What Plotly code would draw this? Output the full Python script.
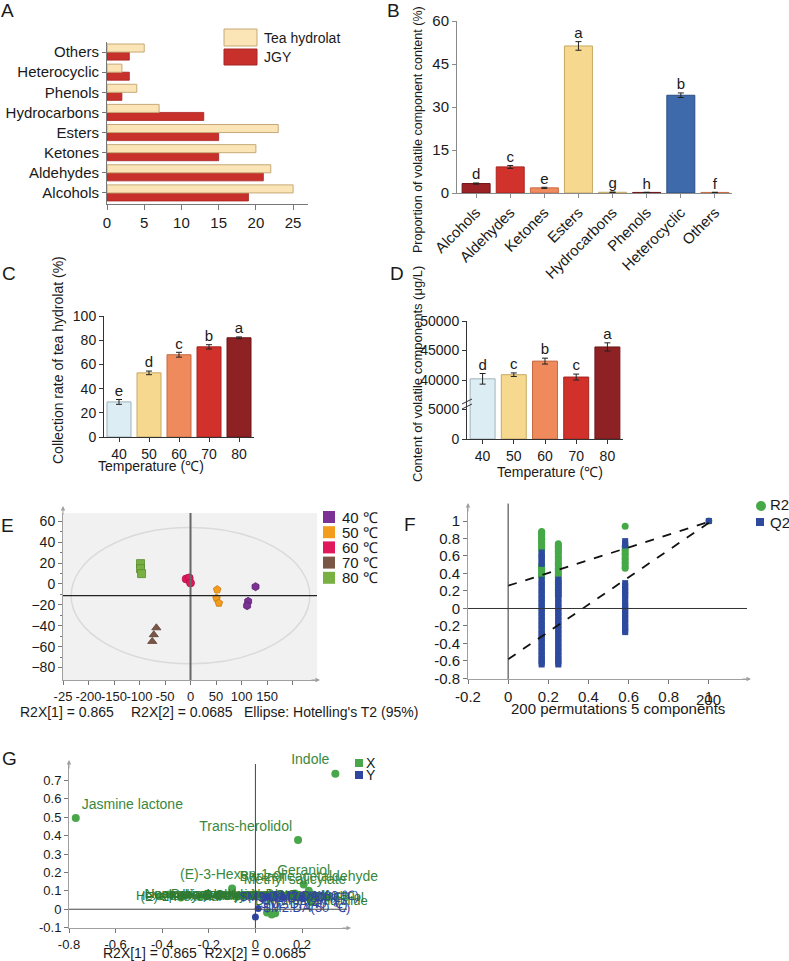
import plotly.graph_objects as go

W, H = 789, 961
FONT = "Liberation Sans, Arial, Helvetica, sans-serif"
TXT = "#1a1a1a"

# ---------------- data ----------------
# Panel A
A_categories = ["Alcohols", "Aldehydes", "Ketones", "Esters", "Hydrocarbons", "Phenols", "Heterocyclic", "Others"]
A_tea = [25, 22, 20, 23, 7, 4, 2, 5]
A_jgy = [19, 21, 15, 15, 13, 2, 3, 3]
A_xticks = [0, 5, 10, 15, 20, 25]
A_series = ["Tea hydrolat", "JGY"]

# Panel B
B_categories = ["Alcohols", "Aldehydes", "Ketones", "Esters", "Hydrocarbons", "Phenols", "Heterocyclic", "Others"]
B_values = [3.3, 9.1, 1.8, 51.3, 0.25, 0.2, 34.1, 0.2]
B_errors = [0.2, 0.5, 0.2, 1.5, 0.05, 0.05, 0.8, 0.05]
B_letters = ["d", "c", "e", "a", "g", "h", "b", "f"]
B_yticks = [0, 15, 30, 45, 60]
B_ytitle = "Proportion of volatile component content (%)"

# Panels C and D
T_labels = ["40", "50", "60", "70", "80"]
C_values = [29, 53, 68, 74.5, 82]
C_errors = [2.0, 1.5, 2.0, 1.8, 0.7]
C_letters = ["e", "d", "c", "b", "a"]
C_yticks = [0, 20, 40, 60, 80, 100]
C_ytitle = "Collection rate of tea hydrolat (%)"

D_values = [40200, 40900, 43200, 40500, 45600]
D_errors = [900, 300, 500, 500, 700]
D_letters = ["d", "c", "b", "c", "a"]
D_yticks = [0, 5000, 40000, 45000, 50000]
D_ytitle = "Content of volatile components (μg/L)"
T_title = "Temperature (℃)"

# Panel E (PCA scores)
E_groups = ["40 ℃", "50 ℃", "60 ℃", "70 ℃", "80 ℃"]
E_x40 = [127.5, 113.0, 111.0]
E_y40 = [-2.6, -16.6, -20.8]
E_x50 = [52.3, 51.0, 55.6]
E_y50 = [-5.4, -13.4, -18.2]
E_x60 = [-8.5, -2.6, 0.0]
E_y60 = [4.8, 5.8, 1.0]
E_x70 = [-67.0, -72.0, -75.0]
E_y70 = [-42.0, -48.6, -55.0]
E_x80 = [-98.0, -98.0, -96.0]
E_y80 = [19.5, 14.7, 9.9]
E_xtickvals = [-250, -200, -150, -100, -50, 0, 50, 100, 150, 200]
E_xticktext = ["-25", "-200", "-150", "-100", "-50", "0", "50", "100", "150", ""]
E_yticks = [-80, -60, -40, -20, 0, 20, 40, 60]
E_yminor = [-70, -50, -30, -10, 10, 30, 50]
E_hline = -11.2
E_ellipse_rx = 234
E_ellipse_ry = 65.3
E_notes = ["R2X[1] = 0.865", "R2X[2] = 0.0685", "Ellipse: Hotelling's T2 (95%)"]

# Panel F (permutation test)
F_cols_x = [0.167, 0.25, 0.583, 1.0]
F_R2_c1 = [0.88, 0.87, 0.85, 0.84, 0.82, 0.80, 0.79, 0.77, 0.75, 0.73, 0.71, 0.69, 0.67,
           0.50, 0.48, 0.46, 0.44, 0.42, 0.40, 0.38, 0.36]
F_R2_c2 = [0.74, 0.72, 0.71, 0.69, 0.67, 0.65, 0.63, 0.60, 0.58, 0.56, 0.53, 0.51, 0.49,
           0.46, 0.44, 0.42, 0.39, 0.37, 0.35, 0.32, 0.29, 0.27, 0.24, 0.21, 0.18, 0.15]
F_R2_c3 = [0.94, 0.71, 0.68, 0.66, 0.63, 0.61, 0.58, 0.56, 0.53, 0.51, 0.48, 0.46]
F_R2_c4 = [1.0]
F_Q2_c1 = [0.64, 0.62, 0.60, 0.58, 0.56, 0.53, 0.51, 0.33, 0.30, 0.28, 0.25, 0.22, 0.20,
           0.17, 0.15, 0.12, 0.10, 0.07, 0.05, 0.02, 0.0, -0.03, -0.05, -0.08, -0.10,
           -0.13, -0.15, -0.18, -0.20, -0.23, -0.25, -0.28, -0.30, -0.33, -0.35, -0.38,
           -0.40, -0.43, -0.45, -0.48, -0.50, -0.53, -0.55, -0.58, -0.60, -0.62, -0.64]
F_Q2_c2 = [0.33, 0.30, 0.28, 0.25, 0.22, 0.20, 0.17, 0.15, 0.12, 0.10, 0.07, 0.05, 0.02,
           0.0, -0.03, -0.05, -0.08, -0.10, -0.13, -0.15, -0.18, -0.20, -0.23, -0.25,
           -0.28, -0.30, -0.33, -0.35, -0.38, -0.40, -0.43, -0.45, -0.48, -0.50, -0.53,
           -0.55, -0.58, -0.60, -0.62, -0.64]
F_Q2_c3 = [0.77, 0.74, 0.72, 0.29, 0.26, 0.24, 0.21, 0.19, 0.16, 0.14, 0.11, 0.07, 0.04,
           0.02, -0.01, -0.03, -0.06, -0.08, -0.11, -0.13, -0.16, -0.18, -0.21, -0.23,
           -0.25, -0.27]
F_Q2_c4 = [1.0]
F_line_x = [0.0, 1.0]
F_R2_line = [0.26, 0.99]
F_Q2_line = [-0.58, 0.98]
F_xtickvals = [-0.2, 0, 0.2, 0.4, 0.6, 0.8, 1.0]
F_xticktext = ["-0.2", "0", "0.2", "0.4", "0.6", "0.8", "1"]
F_ytickvals = [-0.8, -0.6, -0.4, -0.2, 0, 0.2, 0.4, 0.6, 0.8, 1.0]
F_yticktext = ["-0.8", "-0.6", "-0.4", "-0.2", "0", "0.2", "0.4", "0.6", "0.8", "1"]
F_title = "200 permutations 5 components"
F_series = ["R2", "Q2"]

# Panel G (loadings)
G_X_names = ["Jasmine lactone", "Indole", "Trans-herolidol",
             "(E)-3-Hexen-1-ol", "Geraniol", "Benzeneacetaldehyde", "Methyl salicylate",
             "Hexanal", "Nonanal", "(E)-2-Hexenal", "Linalool oxide I", "β-Myrcene",
             "D-Limonene", "trans-β-Ocimene", "Linalool oxide II", "α-Terpineol",
             "Benzyl alcohol", "Linalool", "Phenylethyl alcohol",
             "β-Ionone", "cis-Jasmone", "Coumarin", "Safranal",
             "β-Cyclocitral", "2-Pentylfuran", "1-Octen-3-ol",
             "Dihydroactinidiolide"]
G_X_x = [-0.771, 0.343, 0.183,
         -0.10, 0.207, 0.229, 0.17,
         -0.41, -0.37, -0.32, -0.29, -0.24,
         -0.21, -0.16, -0.12, -0.08,
         -0.04, 0.0, 0.04,
         0.08, 0.11, 0.15, 0.19,
         0.22, 0.26, 0.31,
         0.24]
G_X_y = [0.495, 0.736, 0.376,
         0.112, 0.135, 0.100, 0.085,
         0.070, 0.080, 0.064, 0.076, 0.068,
         0.080, 0.072, 0.078, 0.068,
         0.072, 0.080, 0.070,
         0.066, 0.078, 0.070, 0.074,
         0.066, 0.072, 0.064,
         0.038]
G_X_extra_x = [0.05, 0.07, 0.085]
G_X_extra_y = [-0.018, -0.028, -0.022]
G_Y_names = ["$M2.DA(40 ℃)", "$M2.DA(50 ℃)", "$M2.DA(60 ℃)", "$M2.DA(70 ℃)", "$M2.DA(80 ℃)"]
G_Y_x = [0.0, 0.012, 0.05, 0.12, 0.2]
G_Y_y = [-0.042, 0.004, 0.068, 0.064, 0.058]
G_xtickvals = [-0.8, -0.6, -0.4, -0.2, 0, 0.2]
G_xticktext = ["-0.8", "-0.6", "-0.4", "-0.2", "0", "0.2"]
G_ytickvals = [-0.1, 0, 0.1, 0.2, 0.3, 0.4, 0.5, 0.6, 0.7]
G_yticktext = ["-0.1", "0", "0.1", "0.2", "0.3", "0.4", "0.5", "0.6", "0.7"]
G_note = "R2X[1] = 0.865  R2X[2] = 0.0685"
G_series = ["X", "Y"]

# ---------------- styles ----------------
B_fill = ["#9b2327", "#d2322c", "#ef8b5e", "#f6d88f", "#f6d88f", "#9b2327", "#3e6aac", "#ef8b5e"]
B_edge = ["#6f1518", "#a82520", "#c96a44", "#c7a965", "#c7a965", "#6f1518", "#2b4d80", "#c96a44"]
T_fill = ["#dcedf3", "#f6d88f", "#ef8a5c", "#d1302b", "#8e2124"]
T_edge = ["#9fb3bb", "#c7a965", "#c46a45", "#a52420", "#6d1518"]
E_colors = ["#7b3294", "#f39c1d", "#e0185c", "#7a5646", "#78b043"]
E_edges = ["#5a1f70", "#c7780a", "#b00f45", "#5a3e32", "#5a8a2e"]
E_symbols = ["hexagon", "pentagon", "circle", "triangle-up", "square"]
G_green = "#4aa64a"
G_green_txt = "#3a883d"
G_band_txt = "#2f7a33"
G_blue = "#2f45a0"
F_green = "#45a947"
F_blue = "#2d4a9e"


def xd(a, b):
    return [a / W, b / W]


def yd(top, bottom):
    return [1 - bottom / H, 1 - top / H]


def PX(x):
    return x / W


def PY(y):
    return 1 - y / H


def broken(v):
    # broken y axis of panel D: 0-5000 in the lower step, 40000+ above the break
    return v / 5000.0 if v <= 5000 else 2.0 + (v - 40000) / 5000.0


fig = go.Figure()

# ---------- A ----------
A_pos = list(range(len(A_categories)))
fig.add_trace(go.Bar(y=A_pos, x=A_jgy, orientation="h", width=0.4, offset=-0.4,
                     marker=dict(color="#c8302c", line=dict(color="#a82522", width=0.8)),
                     xaxis="x", yaxis="y", name=A_series[1]))
fig.add_trace(go.Bar(y=A_pos, x=A_tea, orientation="h", width=0.4, offset=0.0,
                     marker=dict(color="#fbe5b6", line=dict(color="#c6a876", width=1)),
                     xaxis="x", yaxis="y", name=A_series[0]))

# ---------- B ----------
B_pos = list(range(len(B_categories)))
fig.add_trace(go.Bar(x=B_pos, y=B_values, width=0.82,
                     marker=dict(color=B_fill, line=dict(color=B_edge, width=1)),
                     error_y=dict(type="data", array=B_errors, color="#222", thickness=1, width=3),
                     xaxis="x2", yaxis="y2"))
fig.add_trace(go.Scatter(x=B_pos, y=[v + e for v, e in zip(B_values, B_errors)], mode="text",
                         text=B_letters, textposition="top center", cliponaxis=False,
                         textfont=dict(size=15, color=TXT), xaxis="x2", yaxis="y2"))

# ---------- C ----------
T_pos = list(range(len(T_labels)))
fig.add_trace(go.Bar(x=T_pos, y=C_values, width=0.8,
                     marker=dict(color=T_fill, line=dict(color=T_edge, width=1)),
                     error_y=dict(type="data", array=C_errors, color="#222", thickness=1, width=3),
                     xaxis="x3", yaxis="y3"))
fig.add_trace(go.Scatter(x=T_pos, y=[v + e for v, e in zip(C_values, C_errors)], mode="text",
                         text=C_letters, textposition="top center", cliponaxis=False,
                         textfont=dict(size=15, color=TXT), xaxis="x3", yaxis="y3"))

# ---------- D ----------
D_disp = [broken(v) for v in D_values]
D_err_disp = [e / 5000.0 for e in D_errors]
fig.add_trace(go.Bar(x=T_pos, y=D_disp, width=0.8,
                     marker=dict(color=T_fill, line=dict(color=T_edge, width=1)),
                     error_y=dict(type="data", array=D_err_disp, color="#222", thickness=1, width=3),
                     xaxis="x4", yaxis="y4"))
fig.add_trace(go.Scatter(x=T_pos, y=[v + e for v, e in zip(D_disp, D_err_disp)], mode="text",
                         text=D_letters, textposition="top center", cliponaxis=False,
                         textfont=dict(size=15, color=TXT), xaxis="x4", yaxis="y4"))

# ---------- E ----------
E_xs = [E_x40, E_x50, E_x60, E_x70, E_x80]
E_ys = [E_y40, E_y50, E_y60, E_y70, E_y80]
for i in range(len(E_groups)):
    fig.add_trace(go.Scatter(x=E_xs[i], y=E_ys[i], mode="markers", name=E_groups[i],
                             marker=dict(symbol=E_symbols[i], size=8, color=E_colors[i],
                                         line=dict(color=E_edges[i], width=0.8)),
                             xaxis="x5", yaxis="y5"))

# ---------- F ----------
F_R2_cols = [F_R2_c1, F_R2_c2, F_R2_c3, F_R2_c4]
F_Q2_cols = [F_Q2_c1, F_Q2_c2, F_Q2_c3, F_Q2_c4]
r2x, r2y, q2x, q2y = [], [], [], []
for cx, col in zip(F_cols_x, F_R2_cols):
    r2x += [cx] * len(col)
    r2y += col
for cx, col in zip(F_cols_x, F_Q2_cols):
    q2x += [cx] * len(col)
    q2y += col
fig.add_trace(go.Scatter(x=r2x, y=r2y, mode="markers", name=F_series[0],
                         marker=dict(symbol="circle", size=7, color=F_green),
                         xaxis="x6", yaxis="y6"))
fig.add_trace(go.Scatter(x=q2x, y=q2y, mode="markers", name=F_series[1],
                         marker=dict(symbol="square", size=6, color=F_blue),
                         xaxis="x6", yaxis="y6"))
fig.add_trace(go.Scatter(x=F_line_x, y=F_R2_line, mode="lines",
                         line=dict(color="#111", width=1.8, dash="dash"), xaxis="x6", yaxis="y6"))
fig.add_trace(go.Scatter(x=F_line_x, y=F_Q2_line, mode="lines",
                         line=dict(color="#111", width=1.8, dash="dash"), xaxis="x6", yaxis="y6"))

# ---------- G ----------
n_named = 7
G_textpos = ["top right", "top left", "top left"] + ["top center"] * 4 + \
            ["middle center"] * (len(G_X_names) - n_named)
G_textsize = [14] * n_named + [13] * (len(G_X_names) - n_named)
G_textcol = [G_green_txt] * n_named + [G_band_txt] * (len(G_X_names) - n_named)
fig.add_trace(go.Scatter(x=G_X_extra_x, y=G_X_extra_y, mode="markers",
                         marker=dict(size=8, color=G_green), xaxis="x7", yaxis="y7"))
fig.add_trace(go.Scatter(x=G_X_x, y=G_X_y, mode="markers+text", text=G_X_names,
                         textposition=G_textpos, cliponaxis=False,
                         textfont=dict(size=G_textsize, color=G_textcol),
                         marker=dict(size=8, color=G_green), xaxis="x7", yaxis="y7"))
fig.add_trace(go.Scatter(x=G_Y_x, y=G_Y_y, mode="markers+text", text=G_Y_names,
                         textposition=["top right", "middle right", "middle right", "middle center", "middle center"],
                         cliponaxis=False, textfont=dict(size=13, color=G_blue),
                         marker=dict(size=7, color=G_blue), xaxis="x7", yaxis="y7"))

# ---------------- axes ----------------
base = dict(showgrid=False, zeroline=False, showline=True, ticks="outside", ticklen=4,
            tickwidth=1, tickangle=0, fixedrange=True, automargin=False,
            tickfont=dict(size=15, color=TXT))


def ax(**kw):
    d = dict(base)
    d.update(kw)
    return d


gray = "#8a8a8a"
dark = "#333333"
layout_axes = dict(
    xaxis=ax(domain=xd(107, 308), range=[0, 27], tickvals=A_xticks, anchor="y",
             linecolor="#777", tickcolor="#777", ticklen=5),
    yaxis=ax(domain=yd(42, 204), range=[-0.55, 7.5], tickvals=A_pos, ticktext=A_categories,
             anchor="x", linecolor="#777", tickcolor="#777"),
    xaxis2=ax(domain=xd(457, 732), range=[-0.56, 7.5], tickvals=B_pos, ticktext=B_categories,
              tickangle=-45, anchor="y2", linecolor=gray, tickcolor=gray),
    yaxis2=ax(domain=yd(21, 193), range=[0, 60], tickvals=B_yticks, anchor="x2",
              linecolor=gray, tickcolor=gray),
    xaxis3=ax(domain=xd(104, 254), range=[-0.5, 4.5], tickvals=T_pos, ticktext=T_labels,
              anchor="y3", linecolor=dark, tickcolor=dark, tickfont=dict(size=14, color=TXT)),
    yaxis3=ax(domain=yd(316, 437), range=[0, 100], tickvals=C_yticks, anchor="x3",
              linecolor=dark, tickcolor=dark, tickfont=dict(size=14, color=TXT)),
    xaxis4=ax(domain=xd(467, 623), range=[-0.5, 4.5], tickvals=T_pos, ticktext=T_labels,
              anchor="y4", linecolor=dark, tickcolor=dark, tickfont=dict(size=14, color=TXT)),
    yaxis4=ax(domain=yd(321, 439), range=[0, 4], tickvals=[broken(v) for v in D_yticks],
              ticktext=[str(v) for v in D_yticks], anchor="x4",
              linecolor=dark, tickcolor=dark, tickfont=dict(size=14, color=TXT)),
    xaxis5=ax(domain=xd(63, 317), range=[-250, 248], tickvals=E_xtickvals, ticktext=E_xticktext,
              anchor="y5", linecolor="#a0a0a0", tickcolor="#777", tickfont=dict(size=13, color=TXT)),
    yaxis5=ax(domain=yd(513, 680), range=[-92, 68], tickvals=E_yticks, anchor="x5",
              linecolor="#a0a0a0", tickcolor="#777", tickfont=dict(size=14, color=TXT),
              minor=dict(tickvals=E_yminor, ticks="outside", ticklen=2, tickcolor="#777")),
    xaxis6=ax(domain=xd(468, 747), range=[-0.2, 1.19], tickvals=F_xtickvals, ticktext=F_xticktext,
              anchor="y6", linecolor="#a0a0a0", tickcolor="#777"),
    yaxis6=ax(domain=yd(507, 679), range=[-0.806, 1.16], tickvals=F_ytickvals, ticktext=F_yticktext,
              anchor="x6", linecolor="#a0a0a0", tickcolor="#777"),
    xaxis7=ax(domain=xd(69, 347), range=[-0.8, 0.393], tickvals=G_xtickvals, ticktext=G_xticktext,
              anchor="y7", linecolor="#a0a0a0", tickcolor="#777", tickfont=dict(size=13, color=TXT)),
    yaxis7=ax(domain=yd(764, 928), range=[-0.102, 0.789], tickvals=G_ytickvals, ticktext=G_yticktext,
              anchor="x7", linecolor="#a0a0a0", tickcolor="#777", tickfont=dict(size=13, color=TXT)),
)

# ---------------- shapes ----------------
shapes = []
# A legend boxes
shapes.append(dict(type="rect", xref="paper", yref="paper", x0=PX(224), x1=PX(257), y0=PY(46), y1=PY(29),
                   fillcolor="#fbe5b6", line=dict(color="#c6a876", width=1)))
shapes.append(dict(type="rect", xref="paper", yref="paper", x0=PX(224), x1=PX(257), y0=PY(65), y1=PY(49),
                   fillcolor="#c8302c", line=dict(color="#a82522", width=1)))
# D axis break marks
for yy in (401, 406):
    shapes.append(dict(type="line", xref="paper", yref="paper", x0=PX(462), x1=PX(472),
                       y0=PY(yy + 3), y1=PY(yy - 2), line=dict(color=dark, width=1)))
# E background, ellipse, reference lines
shapes.append(dict(type="rect", xref="x5 domain", yref="y5 domain", x0=0, x1=1, y0=0, y1=1,
                   fillcolor="#f1f1f1", line=dict(width=0), layer="below"))
shapes.append(dict(type="circle", xref="x5", yref="y5", x0=-E_ellipse_rx, x1=E_ellipse_rx,
                   y0=E_hline - E_ellipse_ry, y1=E_hline + E_ellipse_ry,
                   line=dict(color="#dadada", width=1.5), layer="below"))
shapes.append(dict(type="line", xref="x5", yref="y5 domain", x0=0, x1=0, y0=0, y1=1,
                   line=dict(color="#666", width=2)))
shapes.append(dict(type="line", xref="x5 domain", yref="y5", x0=0, x1=1, y0=E_hline, y1=E_hline,
                   line=dict(color="#222", width=1.2)))
# E legend squares
for i in range(len(E_groups)):
    yc = 517 + i * 15.2
    shapes.append(dict(type="rect", xref="paper", yref="paper", x0=PX(323), x1=PX(335),
                       y0=PY(yc + 6), y1=PY(yc - 6), fillcolor=E_colors[i], line=dict(width=0)))
# F reference lines
shapes.append(dict(type="line", xref="x6 domain", yref="y6", x0=0, x1=1, y0=0, y1=0,
                   line=dict(color=dark, width=1)))
shapes.append(dict(type="line", xref="x6", yref="y6 domain", x0=0, x1=0, y0=0, y1=1.02,
                   line=dict(color=dark, width=1)))
# F legend
shapes.append(dict(type="circle", xref="paper", yref="paper", x0=PX(756), x1=PX(766),
                   y0=PY(511), y1=PY(501), fillcolor=F_green, line=dict(width=0)))
shapes.append(dict(type="rect", xref="paper", yref="paper", x0=PX(756), x1=PX(764),
                   y0=PY(526), y1=PY(518), fillcolor=F_blue, line=dict(width=0)))
# G reference lines
shapes.append(dict(type="line", xref="x7 domain", yref="y7", x0=0, x1=1, y0=0, y1=0,
                   line=dict(color="#444", width=1)))
shapes.append(dict(type="line", xref="x7", yref="y7 domain", x0=0, x1=0, y0=0, y1=1.0,
                   line=dict(color="#444", width=1)))
# G legend
shapes.append(dict(type="rect", xref="paper", yref="paper", x0=PX(355), x1=PX(363),
                   y0=PY(767), y1=PY(759), fillcolor=G_green, line=dict(width=0)))
shapes.append(dict(type="rect", xref="paper", yref="paper", x0=PX(355), x1=PX(363),
                   y0=PY(779), y1=PY(771), fillcolor=G_blue, line=dict(width=0)))

# ---------------- annotations ----------------
ann = []


def text(x, y, s, size=14, xanchor="center", angle=0, color=TXT):
    ann.append(dict(x=PX(x), y=PY(y), xref="paper", yref="paper", text=s, showarrow=False,
                    xanchor=xanchor, yanchor="middle", textangle=angle,
                    font=dict(size=size, color=color, family=FONT)))


def arrow(x, y, dxp, dyp):
    ann.append(dict(x=PX(x), y=PY(y), xref="paper", yref="paper", text="", showarrow=True,
                    ax=dxp, ay=dyp, arrowhead=2, arrowsize=0.9, arrowwidth=1, arrowcolor="#a0a0a0"))


for lab, x, y in [("A", 8, 10), ("B", 393, 10), ("C", 9, 273), ("D", 397, 273),
                  ("E", 8, 525), ("F", 410, 524), ("G", 9, 758)]:
    text(x, y, lab, size=19)

text(262, 38, A_series[0], size=14, xanchor="left")
text(262, 57, A_series[1], size=14, xanchor="left")

text(418, 130, B_ytitle, size=12.5, angle=-90)
text(58, 360, C_ytitle, size=14, angle=-90)
text(418, 374, D_ytitle, size=13, angle=-90)
text(151, 466, T_title, size=14)
text(550, 472, T_title, size=14)

for i, g in enumerate(E_groups):
    text(340, 517 + i * 15.2, g, size=15, xanchor="left")
text(18, 712, E_notes[0], size=14, xanchor="left")
text(129, 712, E_notes[1], size=14, xanchor="left")
text(242, 712, E_notes[2], size=14, xanchor="left")

text(708, 699, "200", size=15)
text(618, 708, F_title, size=15)
text(768, 505, F_series[0], size=15, xanchor="left")
text(768, 522, F_series[1], size=15, xanchor="left")

text(364, 763, G_series[0], size=14, xanchor="left")
text(364, 775, G_series[1], size=14, xanchor="left")
text(204, 953, G_note, size=14)

arrow(63, 506, 0, 10)
arrow(320, 680, -10, 0)
arrow(468, 503, 0, 10)
arrow(751, 679, -10, 0)
arrow(69, 760, 0, 10)
arrow(351, 928, -10, 0)

fig.update_layout(width=W, height=H, margin=dict(l=0, r=0, t=0, b=0, autoexpand=False),
                  paper_bgcolor="white", plot_bgcolor="rgba(0,0,0,0)",
                  barmode="overlay", showlegend=False,
                  font=dict(family=FONT, color=TXT),
                  shapes=shapes, annotations=ann, **layout_axes)

fig.write_html("out.html")
